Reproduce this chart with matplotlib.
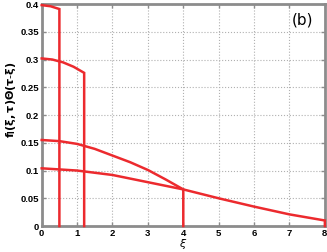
import numpy as np
import matplotlib
matplotlib.use('agg')
import matplotlib.pyplot as plt

# values, one list per curve (curve ends at its cut-off xi)
xi_a = [0, 0.25, 0.5]
f_a = [0.398, 0.396, 0.391]
xi_b = [0, 0.3, 0.6, 0.9, 1.2]
f_b = [0.302, 0.300, 0.295, 0.287, 0.276]
xi_c = [0, 0.5, 1, 1.5, 2, 2.5, 3, 3.5, 4]
f_c = [0.155, 0.153, 0.148, 0.139, 0.127, 0.115, 0.101, 0.084, 0.066]
xi_d = [0, 1, 2, 3, 4, 5, 6, 7, 8]
f_d = [0.104, 0.100, 0.092, 0.079, 0.066, 0.050, 0.035, 0.021, 0.010]

xticks = [0, 1, 2, 3, 4, 5, 6, 7, 8]
yticks = [0, 0.05, 0.1, 0.15, 0.2, 0.25, 0.3, 0.35, 0.4]
yticklabels = ['0', '0.05', '0.1', '0.15', '0.2', '0.25', '0.3', '0.35', '0.4']

red = '#ec2a2e'
grey = '#8c8c8c'

fig = plt.figure(figsize=(3.27, 2.52), dpi=100)
ax = fig.add_axes([0.1275, 0.103, 0.866, 0.881])

for xs, fs in [(xi_a, f_a), (xi_b, f_b), (xi_c, f_c), (xi_d, f_d)]:
    # curve followed by the step down to zero at the cut-off
    ax.plot(list(xs) + [xs[-1]], list(fs) + [0], color=red, lw=1.8,
            solid_joinstyle='miter', clip_on=False, zorder=3)

ax.set_xlim(0, 8)
ax.set_ylim(0, 0.4)
ax.set_xticks(xticks)
ax.set_yticks(yticks)
ax.set_xticklabels([str(t) for t in xticks], fontweight='bold', fontsize=6.8,
                   family='Liberation Sans')
ax.set_yticklabels(yticklabels, fontweight='bold', fontsize=6.8,
                   family='Liberation Sans')
ax.tick_params(direction='in', color=grey, length=3, width=1, pad=2,
               top=True, right=True)
ax.grid(True, linestyle=':', color='#b0b0b0', lw=0.8)
for s in ax.spines.values():
    s.set_color(grey)
    s.set_linewidth(2)

ax.set_xlabel(r'$\xi$', fontsize=8, va='center')
ax.xaxis.set_label_coords(0.5, -0.083)
ax.set_ylabel(r'$\mathbf{f_l(\xi,\tau)\Theta(\tau}$-$\mathbf{\xi)}$',
              fontsize=8, va='center')
ax.yaxis.set_label_coords(-0.107, 0.57)
ax.text(0.92, 0.93, '(b)', transform=ax.transAxes, fontsize=11,
        ha='center', va='center')

fig.savefig('out.png', dpi=100)
